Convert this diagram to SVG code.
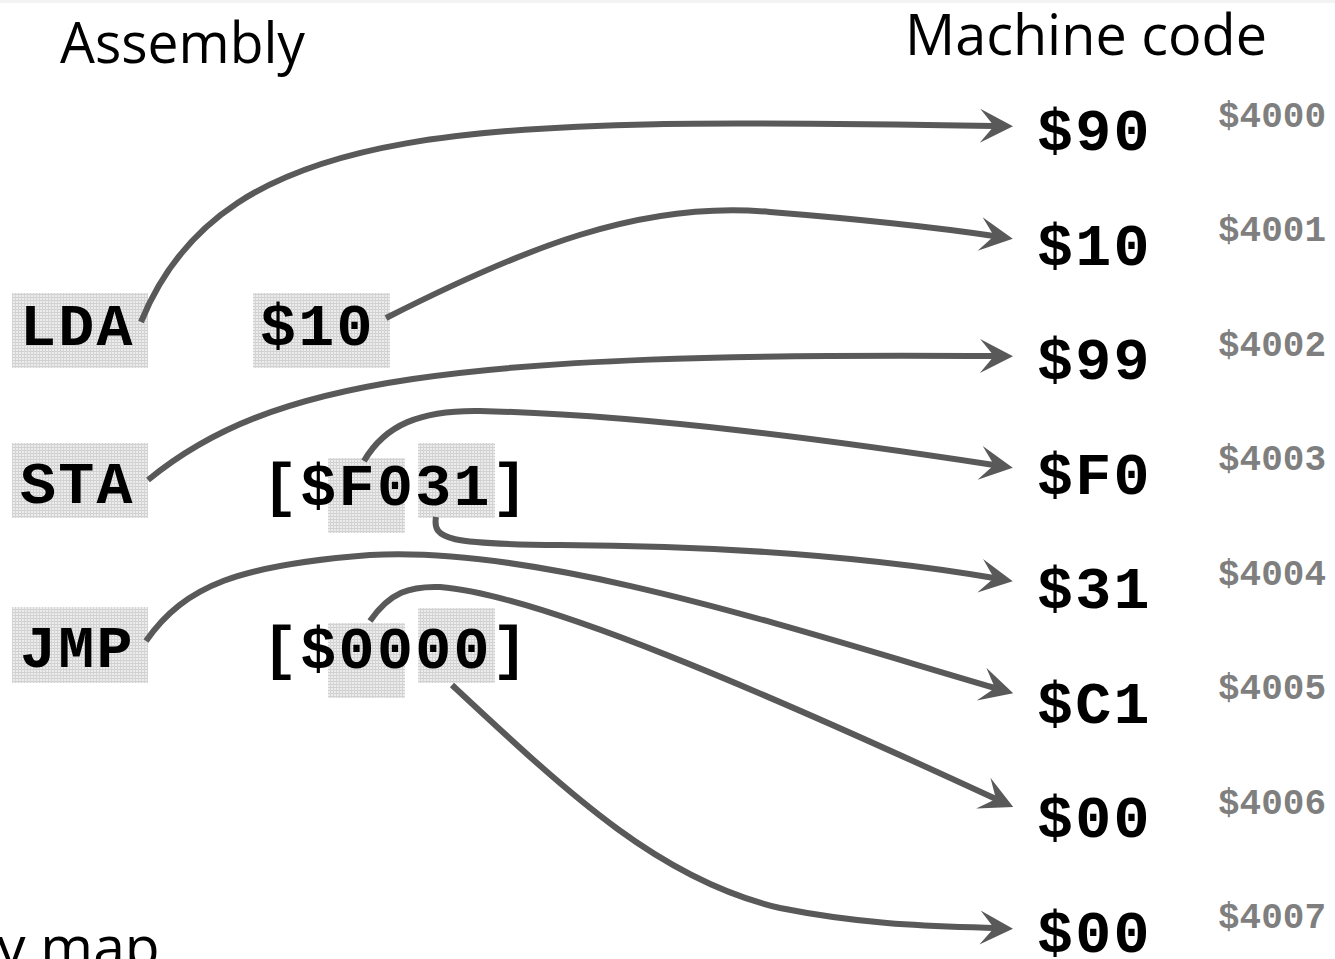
<svg xmlns="http://www.w3.org/2000/svg" width="1335" height="959" viewBox="0 0 1335 959">
<style>
.title{font-family:"Open Sans","Liberation Sans",sans-serif;font-size:57px;fill:#000}
.mono{font-family:"Liberation Mono","Courier New",monospace;font-weight:bold;font-size:60px;fill:#000;letter-spacing:2.3px}
.addr{font-family:"Liberation Mono","Courier New",monospace;font-weight:bold;font-size:36px;fill:#7f7f7f}
.hl{fill:url(#dots)}
.conn{fill:none;stroke:#595959;stroke-width:6;marker-end:url(#ah)}
</style>
<defs>
<pattern id="dots" width="3" height="3" patternUnits="userSpaceOnUse">
<rect width="3" height="3" fill="#ececec"/>
<rect width="3" height="1" fill="#d0d0d0"/>
<rect width="1" height="3" fill="#d4d4d4"/>
</pattern>
<marker id="ah" markerUnits="userSpaceOnUse" viewBox="-16 -19 38 38" markerWidth="38" markerHeight="38" refX="0" refY="0" orient="auto">
<path d="M19,0 L-14,-17 L0,0 L-14,17 Z" fill="#595959"/>
</marker>
</defs>
<rect width="1335" height="959" fill="#fff"/>
<rect width="1335" height="3" fill="#f3f3f3"/>

<g id="title-assembly"><text class="title" x="60" y="63" textLength="245" lengthAdjust="spacingAndGlyphs">Assembly</text></g>
<g id="title-machine"><text class="title" x="905" y="55" textLength="362" lengthAdjust="spacingAndGlyphs">Machine code</text></g>
<g id="title-memmap"><text class="title" x="-3" y="967">y map</text></g>

<g id="asm-lda"><rect class="hl" x="12" y="293" width="136" height="75"/><text class="mono" x="20" y="345">LDA</text></g>
<g id="asm-lda-arg"><rect class="hl" x="253" y="293" width="137" height="75"/><text class="mono" x="260" y="345">$10</text></g>
<g id="asm-sta"><rect class="hl" x="12" y="443" width="136" height="75"/><text class="mono" x="20" y="503">STA</text></g>
<g id="asm-sta-arg"><rect class="hl" x="328" y="458" width="77" height="75"/><rect class="hl" x="418" y="443" width="77" height="75"/><text class="mono" x="262" y="505">[$F031]</text></g>
<g id="asm-jmp"><rect class="hl" x="12" y="607" width="136" height="76"/><text class="mono" x="20" y="667">JMP</text></g>
<g id="asm-jmp-arg"><rect class="hl" x="328" y="623" width="77" height="75"/><rect class="hl" x="418" y="608" width="77" height="75"/><text class="mono" x="262" y="668">[$0000]</text></g>

<g id="mc-4000"><text class="mono" x="1037" y="150">$90</text><text class="addr" x="1218" y="127">$4000</text></g>
<g id="mc-4001"><text class="mono" x="1037" y="265">$10</text><text class="addr" x="1218" y="241">$4001</text></g>
<g id="mc-4002"><text class="mono" x="1037" y="379">$99</text><text class="addr" x="1218" y="356">$4002</text></g>
<g id="mc-4003"><text class="mono" x="1037" y="494">$F0</text><text class="addr" x="1218" y="470">$4003</text></g>
<g id="mc-4004"><text class="mono" x="1037" y="608">$31</text><text class="addr" x="1218" y="585">$4004</text></g>
<g id="mc-4005"><text class="mono" x="1037" y="723">$C1</text><text class="addr" x="1218" y="699">$4005</text></g>
<g id="mc-4006"><text class="mono" x="1037" y="837">$00</text><text class="addr" x="1218" y="814">$4006</text></g>
<g id="mc-4007"><text class="mono" x="1037" y="952">$00</text><text class="addr" x="1218" y="928">$4007</text></g>

<g id="connectors">
<path class="conn" d="M141,322 C 225,115 480,118 994,126"/>
<path class="conn" d="M386,318 C 520,250 640,200 770,212 C 870,220 940,228 994,236"/>
<path class="conn" d="M148,480 C 270,380 450,352 994,356"/>
<path class="conn" d="M364,461 C 385,425 420,410 480,411 C 650,415 850,443 994,465"/>
<path class="conn" d="M436,517 C 432,540 450,544 560,545 C 760,546 900,562 994,578"/>
<path class="conn" d="M146,641 C 185,585 240,565 370,555 C 540,545 790,628 995,688"/>
<path class="conn" d="M370,621 C 390,592 410,586 440,587 C 540,595 760,690 996,799"/>
<path class="conn" d="M452,685 C 570,795 660,880 780,908 C 870,926 940,926 994,928"/>
</g>
</svg>
